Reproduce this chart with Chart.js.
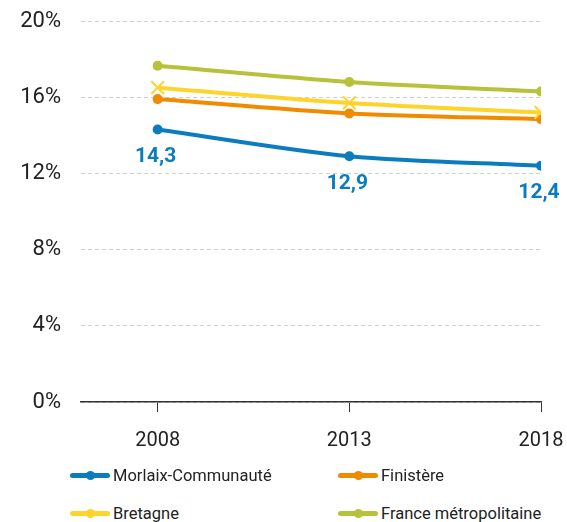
<!DOCTYPE html>
<html>
<head>
<meta charset="utf-8">
<script src="https://cdn.jsdelivr.net/npm/chart.js@4"></script>
<style>
  body { margin: 0; background: #fff; font-family: Roboto, sans-serif; }
  #wrap { position: relative; width: 567px; height: 470px; }
  #legend { position: absolute; left: 0; top: 466px; width: 567px; }
  .item { position: absolute; display: flex; align-items: center; font-size: 16.5px; color: #222; }
  .swatch { position: relative; width: 40px; height: 5px; border-radius: 3px; margin-right: 3px; }
  .swatch i { position: absolute; left: 16px; top: -2px; width: 9px; height: 9px; border-radius: 50%; }
</style>
</head>
<body>
<div id="wrap"><canvas id="chart"></canvas></div>
<div id="legend"></div>
<script>
const years = [2008, 2013, 2018];
const yTicks = [0, 4, 8, 12, 16, 20];
const seriesNames = ['Morlaix-Communauté', 'Finistère', 'Bretagne', 'France métropolitaine'];
const morlaix = [14.3, 12.9, 12.4];
const finistere = [15.9, 15.15, 14.85];
const bretagne = [16.5, 15.7, 15.2];
const france = [17.65, 16.8, 16.3];
const colors = ['#0b7dbf', '#f08a00', '#ffd42a', '#b5c23a'];

const allSeries = [morlaix, finistere, bretagne, france];

// étiquettes de valeurs sous la courbe Morlaix
const valueLabels = {
  id: 'valueLabels',
  afterDatasetsDraw(chart) {
    const ctx = chart.ctx;
    const meta = chart.getDatasetMeta(0);
    ctx.save();
    ctx.font = 'bold 21px Roboto';
    ctx.fillStyle = colors[0];
    ctx.textAlign = 'center';
    ctx.textBaseline = 'middle';
    meta.data.forEach((pt, i) => {
      ctx.fillText(String(morlaix[i]).replace('.', ','), pt.x - 2, pt.y + 27);
    });
    ctx.restore();
  }
};

const datasets = allSeries.map((vals, i) => ({
  label: seriesNames[i],
  data: vals.map((v, j) => ({ x: years[j], y: v })),
  borderColor: colors[i],
  backgroundColor: colors[i],
  borderWidth: 4,
  pointStyle: i === 2 ? 'crossRot' : 'circle',
  pointRadius: i === 2 ? 9 : 5,
  pointBorderWidth: i === 2 ? 2 : 0,
  tension: 0.3,
  order: 3 - i
}));

new Chart(document.getElementById('chart'), {
  type: 'line',
  data: { datasets },
  options: {
    responsive: true,
    maintainAspectRatio: false,
    animation: false,
    layout: { padding: { top: 21, right: 26, left: 0, bottom: 0 } },
    plugins: { legend: { display: false }, tooltip: { enabled: false } },
    scales: {
      x: {
        type: 'linear',
        min: 2006,
        max: 2018,
        afterBuildTicks: s => { s.ticks = years.map(v => ({ value: v })); },
        afterFit: s => { s.paddingRight = 0; s.paddingLeft = 0; },
        grid: { drawOnChartArea: false, tickLength: 10, color: '#333' },
        border: { display: true, color: '#333', width: 1.5 },
        ticks: { font: { size: 20, family: 'Roboto' }, color: '#222', padding: 17, callback: v => String(v) }
      },
      y: {
        min: 0,
        max: 20,
        afterBuildTicks: s => { s.ticks = yTicks.map(v => ({ value: v })); },
        afterFit: s => { s.width = 81; s.paddingTop = 0; s.paddingBottom = 0; },
        grid: { color: '#d0d0d0', drawTicks: false },
        border: { display: false, dash: [4, 3] },
        ticks: { font: { size: 22, family: 'Roboto' }, color: '#222', padding: 20, callback: v => v + '%' }
      }
    }
  },
  plugins: [valueLabels]
});

// légende HTML en deux colonnes
const legendPos = [[70, 0], [338, 0], [70, 38], [338, 38]];
const legend = document.getElementById('legend');
seriesNames.forEach((name, i) => {
  const el = document.createElement('div');
  el.className = 'item';
  el.style.left = legendPos[i][0] + 'px';
  el.style.top = legendPos[i][1] + 'px';
  el.innerHTML = '<span class="swatch" style="background:' + colors[i] + '"><i style="background:' + colors[i] + '"></i></span>' + name;
  legend.appendChild(el);
});
</script>
</body>
</html>
